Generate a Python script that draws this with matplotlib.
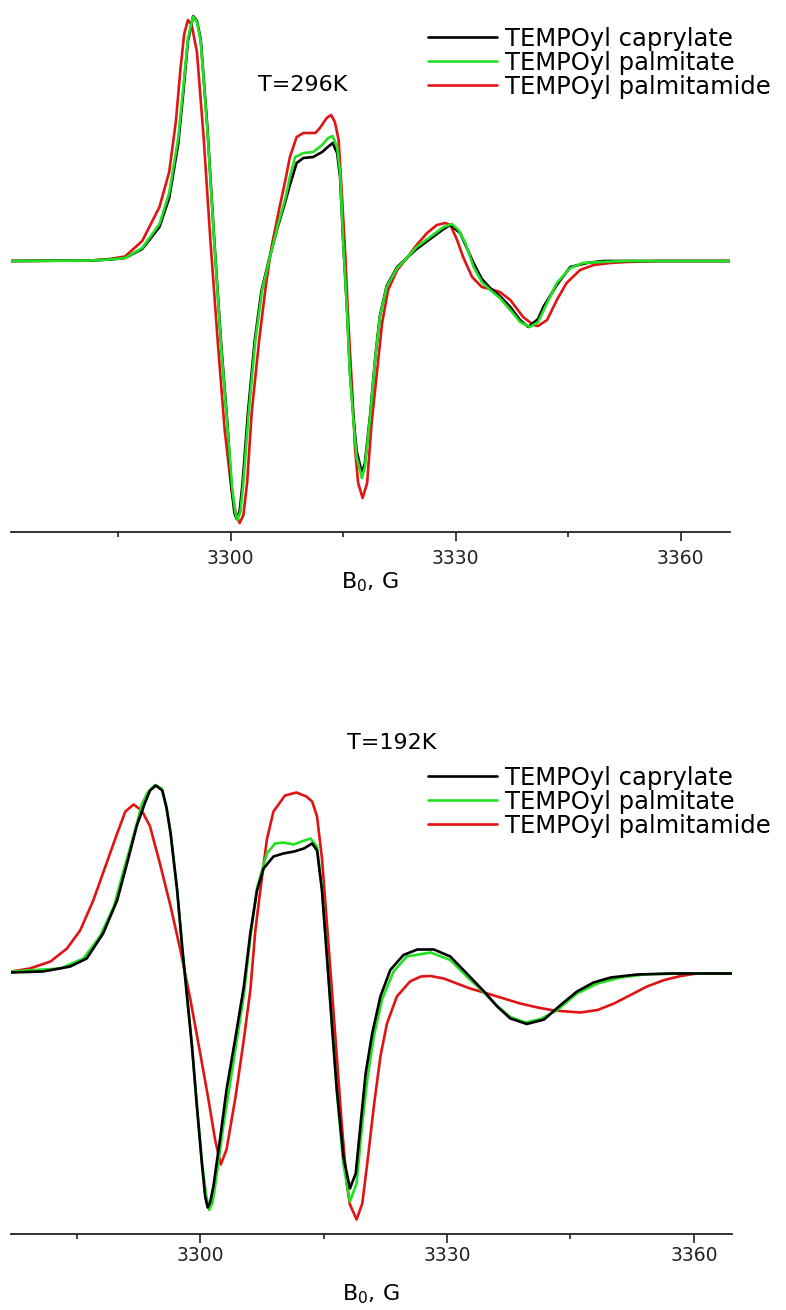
import numpy as np
import matplotlib
matplotlib.use("Agg")
import matplotlib.pyplot as plt

plt.rcParams['font.family'] = ['DejaVu Sans']
plt.rcParams['mathtext.fontset'] = 'dejavusans'

series_names = ["TEMPOyl caprylate", "TEMPOyl palmitate", "TEMPOyl palmitamide"]
series_colors = ["#000000", "#22e022", "#e01414"]

# (magnetic field B0 in G, first-derivative EPR signal in a.u.)
# ---------------- T = 296 K ----------------
top_caprylate = [
    (3270.7, 0), (3281.3, 0.5), (3283.9, 1.5), (3285.9, 3), (3288.2, 12), (3290.5, 34),
    (3291.8, 63), (3293.0, 117), (3293.7, 170), (3294.3, 220), (3295.0, 245), (3295.5, 240),
    (3296.0, 222), (3296.9, 133), (3297.8, 22), (3298.7, -80), (3299.6, -166), (3300.1, -226),
    (3300.5, -252), (3300.8, -258), (3301.2, -250), (3301.6, -221), (3302.3, -152), (3303.2, -80),
    (3304.1, -30), (3305.2, 4), (3306.2, 32), (3307.2, 57), (3307.9, 76), (3308.8, 98),
    (3309.7, 103), (3311.0, 104), (3312.2, 109), (3312.8, 113), (3313.6, 118), (3314.2, 108),
    (3314.6, 83), (3315.0, 20), (3315.5, -46), (3315.9, -110), (3316.4, -158), (3316.8, -190),
    (3317.5, -212), (3317.9, -202), (3318.6, -154), (3319.3, -95), (3319.9, -55), (3320.8, -25),
    (3322.2, -6), (3323.5, 3), (3324.8, 12), (3326.6, 22), (3328.4, 32), (3329.3, 36),
    (3330.6, 28), (3332.4, -2), (3333.5, -18), (3334.6, -27), (3335.9, -35), (3337.3, -46),
    (3338.6, -59), (3339.7, -66), (3341.0, -58), (3341.7, -46), (3343.5, -24), (3345.3, -6),
    (3347.5, -2), (3349.7, 0), (3366.6, 0),
]
top_palmitate = [
    (3270.7, 0), (3281.3, 0.5), (3283.9, 1.5), (3285.9, 3), (3288.2, 13), (3290.5, 37),
    (3291.8, 68), (3293.0, 123), (3293.7, 175), (3294.3, 223), (3295.0, 244.5), (3295.5, 239),
    (3296.0, 220), (3296.9, 130), (3297.8, 20), (3298.7, -83), (3299.6, -169), (3300.2, -227),
    (3300.6, -251), (3300.9, -259), (3301.3, -251), (3301.7, -221), (3302.4, -152), (3303.3, -79),
    (3304.2, -29), (3305.3, 6), (3306.3, 36), (3307.3, 63), (3307.9, 84), (3308.6, 104),
    (3309.7, 108), (3311.0, 109), (3312.2, 116), (3313.0, 123), (3313.6, 125), (3314.2, 114),
    (3314.6, 88), (3315.0, 21), (3315.5, -46), (3315.9, -112), (3316.4, -162), (3316.8, -196),
    (3317.5, -217), (3317.9, -206), (3318.6, -156), (3319.3, -96), (3319.9, -56), (3320.8, -26),
    (3322.2, -7), (3323.5, 3), (3324.8, 14), (3326.6, 24), (3328.4, 34), (3329.5, 37),
    (3330.4, 31), (3331.3, 18), (3332.4, -6), (3333.5, -21), (3334.6, -29), (3335.9, -37),
    (3337.3, -49), (3338.6, -61), (3339.9, -66), (3341.0, -61), (3342.2, -42), (3343.5, -22),
    (3345.3, -7), (3347.0, -2), (3349.3, -1), (3352.8, 0), (3366.6, 0),
]
top_palmitamide = [
    (3270.7, 0), (3281.3, 0.5), (3283.9, 2), (3285.9, 4.5), (3288.2, 20), (3290.5, 54),
    (3291.8, 89), (3292.7, 140), (3293.3, 192), (3293.8, 227), (3294.3, 241), (3294.8, 236),
    (3295.5, 209), (3296.4, 123), (3297.3, 20), (3298.3, -83), (3299.2, -169), (3300.1, -228),
    (3300.7, -254), (3301.2, -262), (3301.7, -254), (3302.2, -221), (3302.8, -152), (3303.8, -79),
    (3304.7, -24), (3305.5, 16), (3306.5, 53), (3307.3, 81), (3307.9, 104), (3308.8, 124),
    (3309.7, 128), (3311.3, 128), (3311.9, 133), (3312.8, 143), (3313.4, 146), (3313.9, 139),
    (3314.4, 121), (3314.8, 71), (3315.3, 4), (3315.7, -62), (3316.2, -129), (3316.6, -189),
    (3317.0, -222), (3317.6, -237), (3318.2, -222), (3318.8, -162), (3319.5, -112), (3320.2, -62),
    (3321.0, -29), (3322.2, -9), (3323.5, 3), (3324.8, 16), (3326.2, 28), (3327.5, 36),
    (3328.6, 38), (3329.3, 36), (3330.2, 21), (3331.0, 4), (3332.2, -16), (3333.5, -26),
    (3334.6, -28), (3335.9, -31), (3337.3, -39), (3339.0, -56), (3340.4, -64), (3341.0, -65),
    (3342.2, -59), (3343.5, -39), (3344.8, -22), (3346.6, -9), (3348.4, -4), (3350.6, -2),
    (3352.8, -1), (3357.3, 0), (3366.6, 0),
]

# ---------------- T = 192 K ----------------
low_caprylate = [
    (3277.0, 0), (3280.9, 1), (3284.2, 6), (3286.2, 14), (3288.2, 39), (3289.9, 72),
    (3291.1, 109), (3292.3, 147), (3293.3, 170), (3293.9, 182), (3294.6, 187), (3295.4, 182),
    (3295.9, 165), (3296.4, 139), (3297.2, 82), (3297.8, 26), (3298.4, -24), (3299.0, -74),
    (3299.6, -134), (3300.2, -191), (3300.6, -224), (3300.9, -235), (3301.2, -230), (3301.6, -214),
    (3302.4, -167), (3303.2, -117), (3304.3, -64), (3305.3, -14), (3306.1, 40), (3306.9, 82),
    (3307.7, 104), (3308.9, 116), (3310.1, 119), (3311.4, 121), (3312.6, 124), (3313.6, 129),
    (3314.2, 122), (3314.8, 82), (3315.4, 16), (3316.0, -51), (3316.6, -117), (3317.4, -184),
    (3318.2, -216), (3318.9, -201), (3319.5, -151), (3320.1, -101), (3320.9, -61), (3321.9, -24),
    (3323.1, 2.5), (3324.7, 17.5), (3326.4, 23), (3328.4, 23), (3330.4, 16), (3332.4, -1),
    (3334.5, -19), (3336.1, -34), (3337.7, -46), (3339.7, -51.5), (3341.8, -47), (3343.8, -32.5),
    (3345.8, -19), (3347.8, -10), (3349.9, -5), (3353.1, -2), (3357.2, -1), (3364.6, -1),
]
low_palmitate = [
    (3277.0, 1), (3283.0, 4), (3285.8, 14), (3287.8, 36), (3289.5, 66), (3290.7, 102.5),
    (3291.9, 137), (3292.9, 168), (3293.6, 180), (3294.5, 187.5), (3295.3, 184), (3295.9, 165),
    (3296.4, 139), (3297.2, 82), (3297.8, 26), (3298.4, -24), (3299.0, -74), (3299.6, -134),
    (3300.2, -188), (3300.7, -222), (3301.1, -237.5), (3301.5, -230), (3301.8, -214), (3302.8, -154),
    (3303.8, -102), (3305.3, -22.5), (3306.1, 35.5), (3306.9, 84.5), (3308.1, 119), (3309.1, 129),
    (3310.1, 130), (3311.4, 128), (3312.3, 131), (3313.4, 134), (3314.2, 126), (3314.8, 84),
    (3315.4, 17), (3316.0, -51), (3316.6, -119), (3317.4, -192), (3318.2, -229), (3319.0, -211),
    (3319.7, -151), (3320.3, -107), (3321.1, -64), (3322.1, -27), (3323.5, 1), (3325.1, 16),
    (3328.0, 20), (3330.4, 12.5), (3332.4, -4), (3334.1, -17), (3336.1, -33.5), (3337.7, -44.5),
    (3339.5, -50), (3341.4, -46.5), (3343.4, -37.5), (3345.8, -21), (3348.3, -11), (3351.1, -5),
    (3353.9, -2), (3358.4, -1), (3364.6, -1),
]
low_palmitamide = [
    (3277.0, 1), (3279.3, 4), (3281.8, 11), (3283.8, 24), (3285.4, 42), (3287.0, 72),
    (3288.6, 109), (3289.9, 139), (3290.9, 161), (3291.9, 168), (3292.9, 162), (3293.9, 146),
    (3295.1, 109), (3296.4, 66), (3297.6, 22), (3298.8, -27), (3300.0, -81), (3301.0, -127),
    (3301.8, -167), (3302.5, -192), (3303.2, -177), (3304.3, -124), (3305.3, -67), (3306.1, -17),
    (3306.7, 42), (3307.3, 82), (3308.1, 133), (3308.9, 161), (3310.3, 177), (3311.7, 180),
    (3312.9, 176), (3313.6, 171), (3314.2, 156), (3314.8, 114), (3315.4, 49), (3316.0, -17),
    (3316.6, -84), (3317.2, -151), (3317.8, -211), (3318.2, -232), (3319.0, -247), (3319.7, -231),
    (3320.3, -191), (3321.1, -134), (3321.9, -84), (3322.7, -51), (3323.9, -24), (3325.5, -9),
    (3326.8, -4), (3328.0, -3.5), (3329.6, -6), (3331.2, -11), (3332.8, -16), (3334.9, -21),
    (3336.9, -26), (3338.9, -31), (3341.0, -35), (3343.0, -38), (3346.2, -40), (3348.3, -37.5),
    (3350.3, -31), (3352.3, -22.5), (3354.3, -14), (3356.4, -7.5), (3358.4, -3.5), (3360.4, -1),
    (3364.6, -1),
]

major_ticks = [3300, 3330, 3360]
minor_ticks = [3285, 3315, 3345]

W, H = 786, 1310
fig = plt.figure(figsize=(W / 100, H / 100), dpi=100)


def axes_px(x0, x1, ytop, ybot):
    return fig.add_axes([x0 / W, 1 - ybot / H, (x1 - x0) / W, (ybot - ytop) / H])


def style(ax, xlim, ylim, pad):
    ax.set_xlim(*xlim)
    ax.set_ylim(*ylim)
    for side in ("left", "right", "top"):
        ax.spines[side].set_visible(False)
    ax.spines["bottom"].set_linewidth(1.3)
    ax.spines["bottom"].set_color("#222222")
    ax.set_yticks([])
    ax.set_xticks(major_ticks)
    ax.set_xticks(minor_ticks, minor=True)
    ax.tick_params(axis="x", which="major", direction="out", length=6.5, width=1.2,
                   labelsize=13.5, pad=pad, colors="#222222")
    ax.tick_params(axis="x", which="minor", direction="out", length=3.5, width=1.2,
                   colors="#222222")
    ax.patch.set_alpha(0)


def draw(ax, data, order):
    for z, i in enumerate(order):
        b, a = np.array(data[i]).T
        ax.plot(b, a, color=series_colors[i], lw=1.9, label=series_names[i],
                solid_joinstyle="round", solid_capstyle="round", zorder=2 + z)


# upper panel
ax1 = axes_px(11, 730, 5, 532)
style(ax1, (3270.7, 3366.6), (-271, 256), pad=6.0)
draw(ax1, [top_caprylate, top_palmitate, top_palmitamide], [2, 0, 1])
fig.text(303 / W, 1 - 85 / H, "T=296K", ha="center", va="center", fontsize=16)
fig.text(370 / W, 1 - 582 / H, r"B$_\mathrm{0}$, G", ha="center", va="center", fontsize=16)

# lower panel
ax2 = axes_px(11, 731.7, 740, 1234)
style(ax2, (3277.0, 3364.6), (-261.5, 232.5), pad=1.8)
draw(ax2, [low_caprylate, low_palmitate, low_palmitamide], [2, 1, 0])
fig.text(392 / W, 1 - 743 / H, "T=192K", ha="center", va="center", fontsize=16)
fig.text(371 / W, 1 - 1294 / H, r"B$_\mathrm{0}$, G", ha="center", va="center", fontsize=16)

for ax, ytop in ((ax1, 27), (ax2, 766)):
    handles = {h.get_label(): h for h in ax.get_lines()}
    hs = [handles[n] for n in series_names]
    fig.legend(hs, series_names, loc="upper left",
               bbox_to_anchor=(428 / W, 1 - ytop / H), frameon=False,
               fontsize=17.5, handlelength=2.85, handletextpad=0.33,
               labelspacing=0.0, borderpad=0, borderaxespad=0)

fig.savefig("out.png", dpi=100)
